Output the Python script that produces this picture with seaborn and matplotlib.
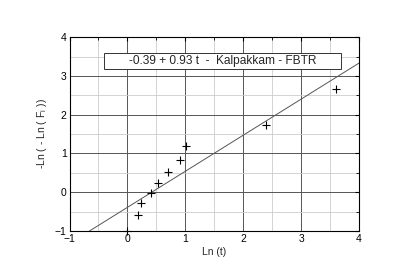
import numpy as np
import pandas as pd
import matplotlib
matplotlib.use("Agg")
import matplotlib.pyplot as plt
import seaborn as sns
from matplotlib.ticker import MultipleLocator
from matplotlib.patches import Rectangle

# data
ln_t = [0.0, 0.18, 0.23, 0.41, 0.52, 0.70, 0.91, 1.02, 2.39, 3.61]
ln_ln_f = [-1.0, -0.59, -0.29, -0.03, 0.23, 0.52, 0.82, 1.20, 1.73, 2.66]
intercept = -0.39
slope = 0.93
fit_x = [-0.656, 4.0]

df = pd.DataFrame({"x": ln_t, "y": ln_ln_f})
fit = pd.DataFrame({"x": fit_x, "y": [intercept + slope * v for v in fit_x]})

sns.set_style("white")
plt.rcParams["font.family"] = ["Liberation Sans", "DejaVu Sans"]

fig, ax = plt.subplots(figsize=(4.15, 2.77), dpi=100)
fig.subplots_adjust(left=0.1675, right=0.865, top=0.866, bottom=0.166)

ax.set_xlim(-1, 4)
ax.set_ylim(-1, 4)
ax.xaxis.set_major_locator(MultipleLocator(1))
ax.yaxis.set_major_locator(MultipleLocator(1))
ax.xaxis.set_minor_locator(MultipleLocator(0.5))
ax.yaxis.set_minor_locator(MultipleLocator(0.5))
ax.grid(which="major", color="#555555", lw=0.7)
ax.grid(which="minor", color="#cccccc", lw=0.6)
ax.set_axisbelow(True)

sns.lineplot(data=fit, x="x", y="y", ax=ax, color="#555555", lw=0.7)
sns.scatterplot(data=df, x="x", y="y", ax=ax, marker="+", color="black",
                s=38, linewidth=0.8, zorder=5, clip_on=False)

for sp in ax.spines.values():
    sp.set_color("black")
    sp.set_linewidth(0.8)
ax.tick_params(which="both", direction="in", top=True, right=True,
               labelsize=7.5, colors="black", pad=2)
ax.tick_params(which="major", length=3, width=0.8)
ax.tick_params(which="minor", length=2, width=0.6)

ax.set_xlabel("Ln (t)", fontsize=7.5, labelpad=2)
ax.set_ylabel("-Ln ( - Ln ( F$_\\mathregular{i}$ ))", fontsize=7.5, labelpad=4)

# legend-like box
ax.add_patch(Rectangle((-0.40, 3.175), 4.09, 0.413, fc="white", ec="#333333",
                       lw=0.7, zorder=6))
ax.text(1.64, 3.38, "-0.39 + 0.93 t  -  Kalpakkam - FBTR", fontsize=8.6,
        ha="center", va="center", zorder=7)

fig.savefig("out.png", dpi=100)
